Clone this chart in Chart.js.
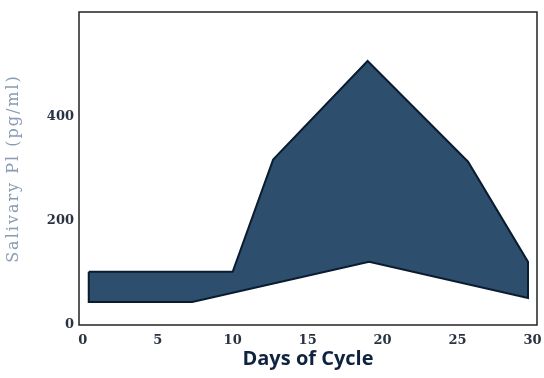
<!DOCTYPE html>
<html>
<head>
<meta charset="utf-8">
<script src="https://cdn.jsdelivr.net/npm/chart.js@4/dist/chart.umd.min.js"></script>
<style>
  html, body { margin: 0; padding: 0; background: #fff; }
  #wrap { width: 544px; height: 378px; }
</style>
</head>
<body>
<div id="wrap"><canvas id="c" width="544" height="378"></canvas></div>
<script>
// band outline: upper edge left->right, then lower edge right->left
const upperDays = [0.4, 10, 12.7, 19, 25.7, 29.7];
const upperVals = [102, 102, 317, 506, 313, 121];
const lowerDays = [29.7, 19.1, 7.3, 0.4];
const lowerVals = [52, 121, 44, 44];
const xTicks = [0, 5, 10, 15, 20, 25, 30];
const yTicks = [0, 200, 400];

let outline = [];
upperDays.forEach((d, i) => outline.push({x: d, y: upperVals[i]}));
lowerDays.forEach((d, i) => outline.push({x: d, y: lowerVals[i]}));
outline.push({x: upperDays[0], y: upperVals[0]});

const boxPlugin = {
  id: 'box',
  afterDraw(chart){
    let a = chart.chartArea;
    let ctx = chart.ctx;
    ctx.save();
    ctx.strokeStyle = '#222';
    ctx.lineWidth = 1.5;
    ctx.strokeRect(a.left, a.top, a.right - a.left, a.bottom - a.top);
    ctx.restore();
  }
};

// the scanned y title is spaced out, so widen its letters a bit
function spaceTitle(s){
  if(s._spaced) return;
  s._spaced = true;
  let orig = s.drawTitle;
  s.drawTitle = function(){
    this.ctx.letterSpacing = '2px';
    orig.apply(this, arguments);
    this.ctx.letterSpacing = '0px';
  };
}

const tickFont = {family: 'DejaVu Serif', size: 13, weight: 'bold'};

new Chart(document.getElementById('c'), {
  type: 'scatter',
  data: {
    datasets: [{
      data: outline,
      showLine: true,
      tension: 0,
      pointRadius: 0,
      borderColor: '#0b1c30',
      borderWidth: 2,
      backgroundColor: '#2d4e6d',
      fill: 'shape'
    }]
  },
  options: {
    responsive: false,
    animation: false,
    layout: {padding: {top: 12, right: 7}},
    plugins: {legend: {display: false}, tooltip: {enabled: false}},
    scales: {
      x: {
        type: 'linear',
        min: -0.25,
        max: 30.3,
        afterBuildTicks: s => { s.ticks = xTicks.map(v => ({value: v})); },
        afterFit: s => { s.height = 53; s.paddingLeft = 0; s.paddingRight = 0; },
        grid: {display: false, drawTicks: false},
        border: {display: false},
        ticks: {color: '#2a3343', font: tickFont, padding: 8, maxRotation: 0},
        title: {display: true, text: 'Days of Cycle', color: '#0f2340',
          font: {family: 'Open Sans', size: 20, weight: 'bold'}, padding: {top: 0, bottom: 7}}
      },
      y: {
        min: 0,
        max: 600,
        afterBuildTicks: s => { s.ticks = yTicks.map(v => ({value: v})); },
        afterFit: s => { s.width = 79; s.paddingTop = 0; s.paddingBottom = 0; spaceTitle(s); },
        grid: {display: false, drawTicks: false},
        border: {display: false},
        ticks: {color: '#2a3343', font: tickFont, padding: 5},
        title: {display: true, text: 'Salivary Pl (pg/ml)', color: '#8a9cb4',
          font: {family: 'DejaVu Serif', size: 16}, padding: {bottom: 8}}
      }
    }
  },
  plugins: [boxPlugin]
});
</script>
</body>
</html>
